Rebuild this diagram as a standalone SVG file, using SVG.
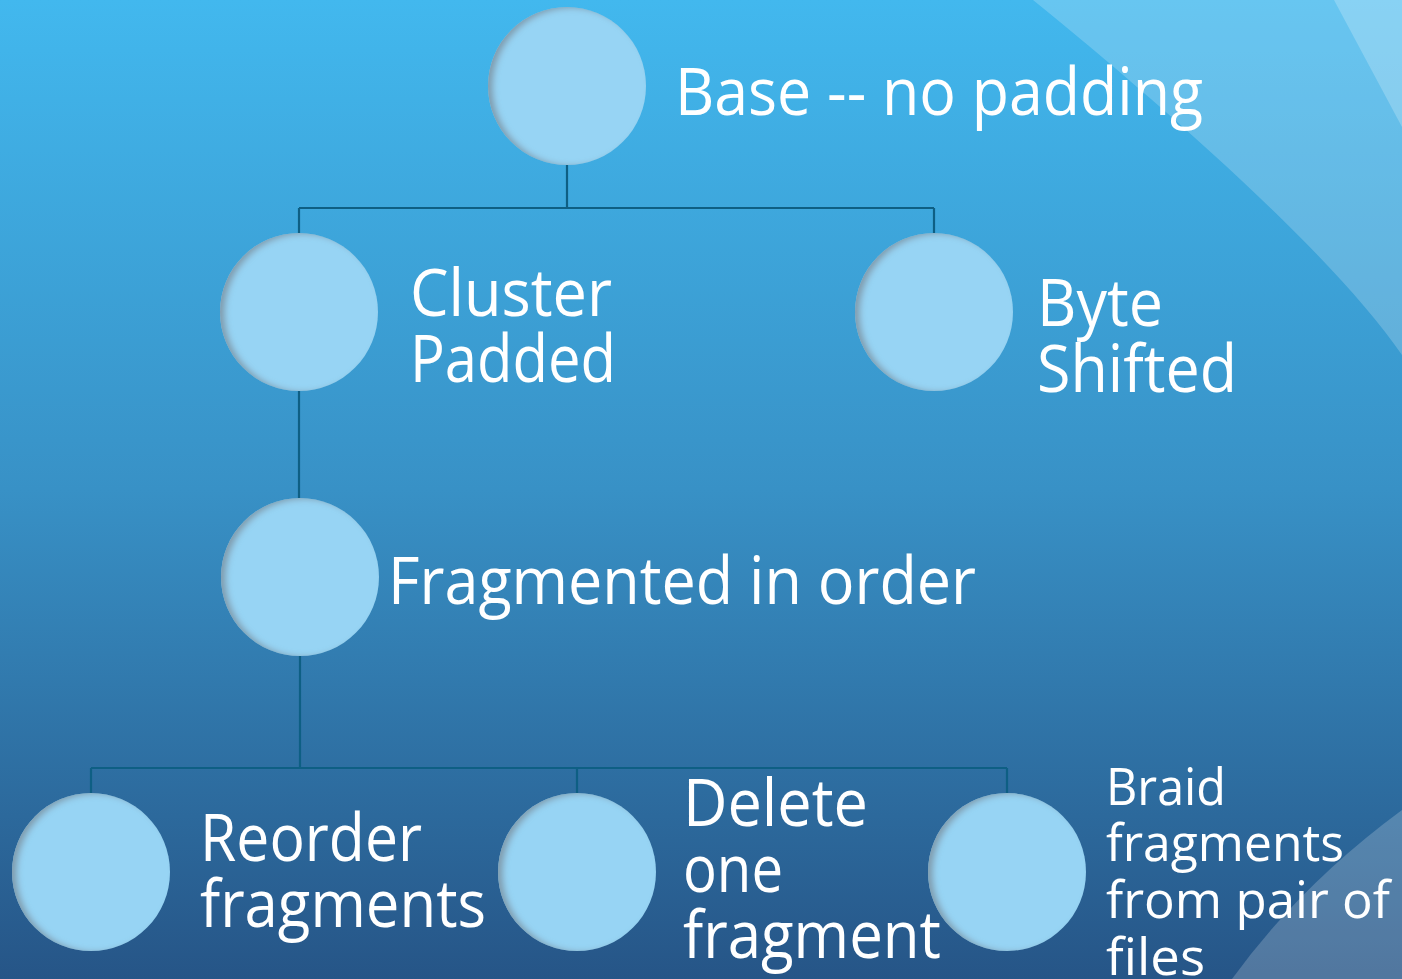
<svg xmlns="http://www.w3.org/2000/svg" width="1402" height="979" viewBox="0 0 1402 979">
  <defs>
    <linearGradient id="bg" x1="0" y1="0" x2="0" y2="1">
      <stop offset="0" stop-color="#42b8ee"/>
      <stop offset="0.5" stop-color="#3891c6"/>
      <stop offset="1" stop-color="#265587"/>
    </linearGradient>
    <filter id="inner" x="-10%" y="-10%" width="120%" height="120%">
      <feOffset in="SourceAlpha" dx="5" dy="1" result="off"/>
      <feGaussianBlur in="off" stdDeviation="3" result="blur"/>
      <feComposite in="SourceAlpha" in2="blur" operator="out" result="edge"/>
      <feFlood flood-color="#7a8a96" flood-opacity="0.8"/>
      <feComposite in2="edge" operator="in" result="shadow"/>
      <feMerge>
        <feMergeNode in="SourceGraphic"/>
        <feMergeNode in="shadow"/>
      </feMerge>
    </filter>
    <style>
      .node { fill: #97d4f4; filter: url(#inner); }
      .lbl { fill: #ffffff; font-family: "Open Sans", "Noto Sans", "DejaVu Sans", sans-serif; font-size: 65px; }
      .sm { font-size: 52px; }
      .conn { fill: none; stroke: #0e5f84; stroke-width: 2.2; }
    </style>
  </defs>

  <rect x="0" y="0" width="1402" height="979" fill="url(#bg)"/>
  <path d="M1033,0 C1150,95 1330,250 1402,355 L1402,0 Z" fill="#ffffff" fill-opacity="0.2"/>
  <path d="M1334,0 L1402,127 L1402,0 Z" fill="#ffffff" fill-opacity="0.22"/>
  <path d="M1402,810 Q1300,885 1232,979 L1402,979 Z" fill="#ffffff" fill-opacity="0.2"/>

  <g id="connectors">
    <path class="conn" d="M567,165 V208 M299,208 H934 M299,208 V233 M934,208 V233"/>
    <path class="conn" d="M299,391 V498"/>
    <path class="conn" d="M300,656 V768 M91,768 H1007 M91,768 V793 M577,768 V793 M1007,768 V793"/>
  </g>

  <g id="node-base">
    <circle class="node" cx="567" cy="86" r="79"/>
    <text class="lbl" x="675" y="115" textLength="528" lengthAdjust="spacingAndGlyphs">Base -- no padding</text>
  </g>
  <g id="node-cluster">
    <circle class="node" cx="299" cy="312" r="79"/>
    <text class="lbl" x="410" y="316" textLength="202" lengthAdjust="spacingAndGlyphs">Cluster</text>
    <text class="lbl" x="410" y="382" textLength="206" lengthAdjust="spacingAndGlyphs">Padded</text>
  </g>
  <g id="node-byte">
    <circle class="node" cx="934" cy="312" r="79"/>
    <text class="lbl" x="1037" y="326" textLength="126" lengthAdjust="spacingAndGlyphs">Byte</text>
    <text class="lbl" x="1037" y="392" textLength="200" lengthAdjust="spacingAndGlyphs">Shifted</text>
  </g>
  <g id="node-fragmented">
    <circle class="node" cx="300" cy="577" r="79"/>
    <text class="lbl" x="388" y="604" textLength="588" lengthAdjust="spacingAndGlyphs">Fragmented in order</text>
  </g>
  <g id="node-reorder">
    <circle class="node" cx="91" cy="872" r="79"/>
    <text class="lbl" x="200" y="861" textLength="222" lengthAdjust="spacingAndGlyphs">Reorder</text>
    <text class="lbl" x="200" y="927" textLength="286" lengthAdjust="spacingAndGlyphs">fragments</text>
  </g>
  <g id="node-delete">
    <circle class="node" cx="577" cy="872" r="79"/>
    <text class="lbl" x="683" y="826" textLength="185" lengthAdjust="spacingAndGlyphs">Delete</text>
    <text class="lbl" x="683" y="892" textLength="100" lengthAdjust="spacingAndGlyphs">one</text>
    <text class="lbl" x="683" y="958" textLength="258" lengthAdjust="spacingAndGlyphs">fragment</text>
  </g>
  <g id="node-braid">
    <circle class="node" cx="1007" cy="872" r="79"/>
    <text class="lbl sm" x="1106" y="805" textLength="120" lengthAdjust="spacingAndGlyphs">Braid</text>
    <text class="lbl sm" x="1106" y="861" textLength="238" lengthAdjust="spacingAndGlyphs">fragments</text>
    <text class="lbl sm" x="1106" y="918" textLength="284" lengthAdjust="spacingAndGlyphs">from pair of</text>
    <text class="lbl sm" x="1106" y="975" textLength="99" lengthAdjust="spacingAndGlyphs">files</text>
  </g>
</svg>
